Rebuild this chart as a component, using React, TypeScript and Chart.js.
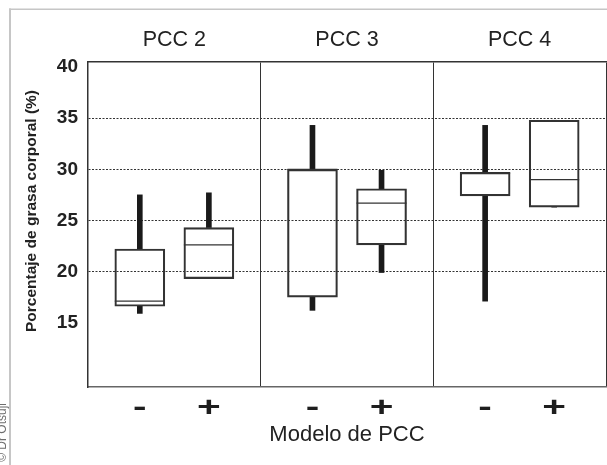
import React, { useEffect, useRef } from 'react';
import { Chart, registerables } from 'chart.js';

Chart.register(...registerables);

const groups = ['PCC 2', 'PCC 3', 'PCC 4'];
const models = ['-', '+'];
const whiskerMin = [15.9, 19.3, 16.2, 19.9, 17.1, 26.3];
const q1 = [16.6, 19.3, 17.5, 22.6, 27.4, 26.3];
const median = [17.1, 22.6, 30.0, 26.7, 29.6, 29.0];
const q3 = [22.2, 24.3, 30.0, 28.1, 29.7, 34.8];
const whiskerMax = [27.5, 27.7, 34.3, 29.9, 34.3, 34.8];
const yTicks = [15, 20, 25, 30, 35, 40];
const yGridValues = [20, 25, 30, 35];
const yMin = 8.7;
const yMax = 40.5;
const yTitle = 'Porcentaje de grasa corporal (%)';
const xTitle = 'Modelo de PCC';
const credit = '© Dr Otsuji';

const FONT = '"Liberation Sans", Arial, Helvetica, sans-serif';

// each group occupies 5 slots: ['', '-', '', '+', '']
const slotLabels: string[] = [];
groups.forEach(() => {
  slotLabels.push('', models[0], '', models[1], '');
});
const slotOf = (i: number) => Math.floor(i / models.length) * 5 + 1 + 2 * (i % models.length);

function toSlots(lo: number[], hi: number[]) {
  const arr: any[] = slotLabels.map(() => null);
  lo.forEach((v, i) => {
    arr[slotOf(i)] = [v, hi[i]];
  });
  return arr;
}

const decorPlugin = {
  id: 'decor',
  beforeDraw(chart: any) {
    const ctx = chart.ctx;
    ctx.save();
    ctx.fillStyle = '#c6c6c6';
    ctx.fillRect(9, 8.5, chart.width - 9, 1.5);
    ctx.fillRect(9, 8.5, 2, chart.height);
    ctx.restore();

    const area = chart.chartArea;
    ctx.save();
    ctx.translate(32, (area.top + area.bottom) / 2 - 13.5);
    ctx.rotate(-Math.PI / 2);
    ctx.font = 'bold 15.5px ' + FONT;
    ctx.fillStyle = '#222';
    ctx.textAlign = 'center';
    ctx.textBaseline = 'middle';
    ctx.fillText(yTitle, 0, 0);
    ctx.restore();
  },
  afterDatasetsDraw(chart: any) {
    const ctx = chart.ctx;
    const meta = chart.getDatasetMeta(0);
    const yScale = chart.scales.y;
    ctx.save();
    ctx.strokeStyle = '#333';
    ctx.lineWidth = 1.3;
    median.forEach((m, i) => {
      const el = meta.data[slotOf(i)];
      if (!el) return;
      const { x, width } = el.getProps(['x', 'width'], true);
      const y = yScale.getPixelForValue(m);
      ctx.beginPath();
      ctx.moveTo(x - width / 2, y);
      ctx.lineTo(x + width / 2, y);
      ctx.stroke();
    });
    ctx.restore();
  },
  afterDraw(chart: any) {
    const ctx = chart.ctx;
    const xs = chart.scales.x;
    ctx.save();
    ctx.fillStyle = '#1e1e1e';
    ctx.font = 'bold 28px ' + FONT;
    ctx.textAlign = 'center';
    ctx.textBaseline = 'middle';
    slotLabels.forEach((lab, i) => {
      if (!lab) return;
      const x = xs.getPixelForValue(i);
      ctx.save();
      ctx.translate(x, xs.top + 21.5);
      ctx.scale(1.45, 1);
      ctx.fillText(lab, 0, 0);
      ctx.restore();
    });
    ctx.restore();

    // credit
    ctx.save();
    ctx.translate(6, 403);
    ctx.rotate(-Math.PI / 2);
    ctx.font = '12px ' + FONT;
    ctx.fillStyle = '#6e6e6e';
    ctx.textAlign = 'right';
    ctx.textBaseline = 'alphabetic';
    ctx.fillText(credit, 0, 0);
    ctx.restore();
  },
};

export default function App() {
  const ref = useRef<HTMLCanvasElement | null>(null);

  useEffect(() => {
    if (!ref.current) return;
    document.body.style.margin = '0';
    Chart.defaults.font.family = FONT;
    const chart = new Chart(ref.current, {
      type: 'bar',
      data: {
        labels: slotLabels,
        datasets: [
          {
            label: 'box',
            data: toSlots(q1, q3),
            backgroundColor: 'rgba(0,0,0,0)',
            borderColor: '#333',
            borderWidth: 1.5,
            borderSkipped: false,
            barThickness: 50,
            grouped: false,
          } as any,
          {
            label: 'upper whisker',
            data: toSlots(q3, whiskerMax),
            backgroundColor: '#1a1a1a',
            borderWidth: 0,
            barThickness: 5,
            grouped: false,
          } as any,
          {
            label: 'lower whisker',
            data: toSlots(whiskerMin, q1),
            backgroundColor: '#1a1a1a',
            borderWidth: 0,
            barThickness: 5,
            grouped: false,
          } as any,
        ],
      },
      options: {
        responsive: false,
        maintainAspectRatio: false,
        animation: false,
        devicePixelRatio: 1,
        layout: { padding: { left: 0, right: 1, top: 0, bottom: 0 } },
        plugins: { legend: { display: false }, tooltip: { enabled: false } },
        scales: {
          x: {
            type: 'category',
            offset: true,
            afterFit: (s: any) => {
              s.height = 78;
            },
            grid: { display: false, drawTicks: false },
            border: { display: true, color: '#666', width: 1.5 },
            ticks: { display: false, autoSkip: false, maxRotation: 0, minRotation: 0 },
            title: {
              display: true,
              text: xTitle,
              color: '#222',
              font: { size: 22 },
              padding: { top: 0, bottom: 17 },
            },
          },
          x2: {
            type: 'category',
            position: 'top',
            labels: groups,
            offset: true,
            afterFit: (s: any) => {
              s.height = 62;
            },
            grid: { offset: true, drawTicks: false, color: '#333', lineWidth: 1 },
            border: { display: true, color: '#333', width: 1.5 },
            ticks: { padding: 9, color: '#222', font: { size: 21.5 } },
          },
          y: {
            type: 'linear',
            min: yMin,
            max: yMax,
            afterBuildTicks: (s: any) => {
              s.ticks = yTicks.map((v) => ({ value: v }));
            },
            afterFit: (s: any) => {
              s.width = 88;
            },
            grid: {
              drawTicks: false,
              lineWidth: 1,
              color: (c: any) =>
                c.tick && yGridValues.includes(c.tick.value) ? '#333' : 'rgba(0,0,0,0)',
            },
            border: { display: true, color: '#333', width: 1.5, dash: [2, 1.5] },
            ticks: { padding: 10, color: '#222', font: { size: 19, weight: 'bold' } },
          },
        } as any,
      },
      plugins: [decorPlugin],
    });
    return () => chart.destroy();
  }, []);

  return (
    <div style={{ position: 'relative', width: 607, height: 465, background: '#fff' }}>
      <style>{'body{margin:0}'}</style>
      <canvas ref={ref} width={607} height={465} style={{ display: 'block', width: 607, height: 465 }} />
    </div>
  );
}
